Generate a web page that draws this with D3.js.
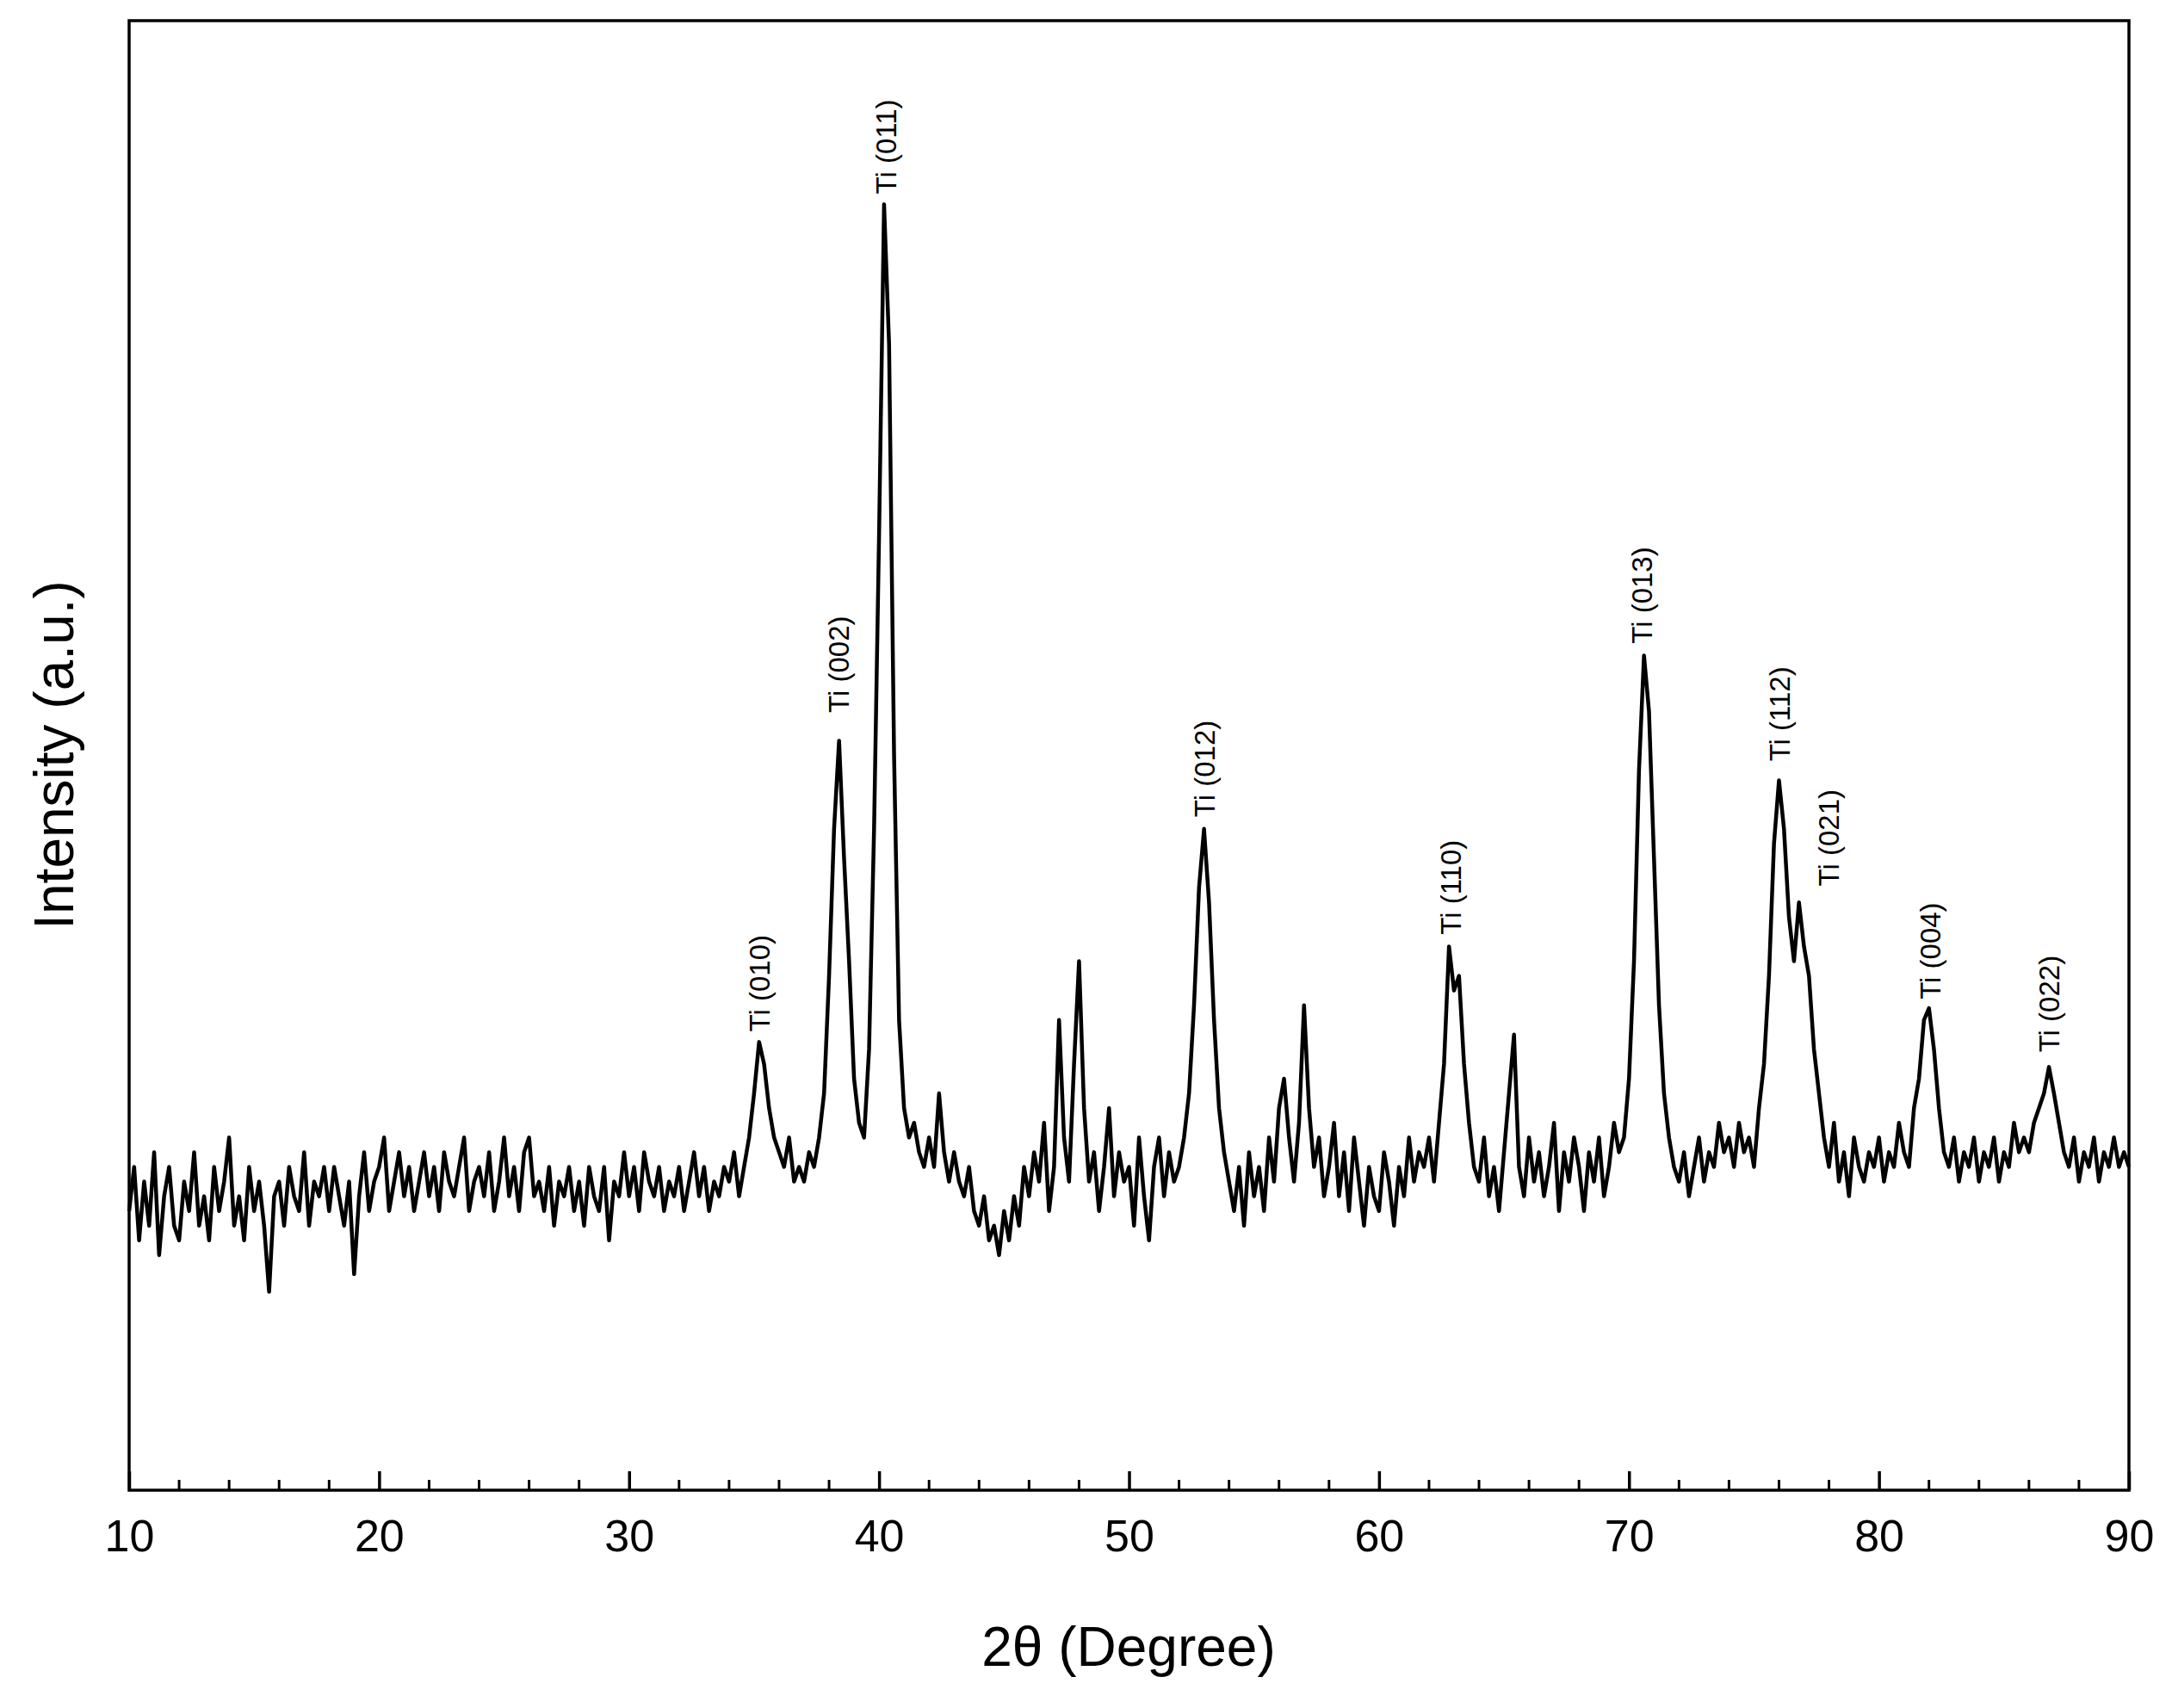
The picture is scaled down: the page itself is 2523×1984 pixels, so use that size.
<!DOCTYPE html>
<html><head><meta charset="utf-8">
<script src="https://cdn.jsdelivr.net/npm/d3@7"></script>
<style>body{margin:0;background:#fff}</style></head>
<body><svg id="c" width="2523" height="1984"></svg>
<script>
const angleStart = 10, angleStep = 0.2;
const intensity = [
19,22,17,21,18,23,16,20,22,18,
17,21,19,23,18,20,17,22,19,21,
24,18,20,17,22,19,21,18,13.5,20,
21,18,22,20,19,23,18,21,20,22,
19,22,20,18,21,14.7,20,23,19,21,
22,24,19,21,23,20,22,19,21,23,
20,22,19,23,21,20,22,24,19,21,
22,20,23,19,21,24,20,22,19,23,
24,20,21,19,22,18,21,20,22,19,
21,18,22,20,19,22,17,21,20,23,
20,22,19,23,21,20,22,19,21,20,
22,19,21,23,20,22,19,21,20,22,
21,23,20,22,24,27,30.5,29,26,24,
23,22,24,21,22,21,23,22,24,27,
35,45,51,43,36,28,25,24,30,45,
65,87.5,78,50,32,26,24,25,23,22,
24,22,27,23,21,23,21,20,22,19,
18,20,17,18,16,19,17,20,18,22,
20,23,21,25,19,22,32,24,21,29,
36,26,21,23,19,22,26,20,23,21,
22,18,24,20,17,22,24,20,23,21,
22,24,27,33,41,45,40,32,26,23,
21,19,22,18,23,20,22,19,24,21,
26,28,24,21,25,33,26,22,24,20,
22,25,20,23,19,24,21,18,22,20,
19,23,21,18,22,20,24,21,23,22,
24,21,25,29,37,34,35,29,25,22,
21,24,20,22,19,23,27,31,22,20,
24,21,23,20,22,25,19,23,21,24,
22,19,23,21,24,20,22,25,23,24,
28,36,49,56.8,53,43,33,27,24,22,
21,23,20,22,24,21,23,22,25,23,
24,22,25,23,24,22,26,29,35,44,
48.3,45,39,36,40,37,35,30,27,24,
22,25,21,23,20,24,22,21,23,22,
24,21,23,22,25,23,22,26,28,32,
32.8,30,26,23,22,24,21,23,22,24,
21,23,22,24,21,23,22,25,23,24,
23,25,26,27,28.8,27,25,23,22,24,
21,23,22,24,21,23,22,24,22,23,22];
const peakLabels = ["Ti (010)","Ti (002)","Ti (011)","Ti (012)","Ti (110)","Ti (013)","Ti (112)","Ti (021)","Ti (004)","Ti (022)"];
const peakX = [35.26,38.42,40.3,53.05,62.9,70.55,76.04,78.0,82.08,86.84];
const peakY = [31.2,52.9,88.2,45.8,37.8,57.6,49.6,41.1,33.4,29.8];
const xTicks = [10,20,30,40,50,60,70,80,90];

const L=150,R=2473,T=24,B=1731;
const svg=d3.select("#c");
const x=d3.scaleLinear().domain([10,90]).range([L,R]);
const y=d3.scaleLinear().domain([0,100]).range([B,T]);
const data=intensity.map((v,i)=>[angleStart+i*angleStep,v]);
svg.append("path").datum(data).attr("fill","none").attr("stroke","#000").attr("stroke-width",4.5)
  .attr("stroke-linejoin","round").attr("d",d3.line().x(d=>x(d[0])).y(d=>y(d[1])));
svg.append("rect").attr("x",L).attr("y",T).attr("width",R-L).attr("height",B-T).attr("fill","none").attr("stroke","#000").attr("stroke-width",3.5);
const ax=svg.append("g").attr("transform",`translate(0,${B})`)
  .call(d3.axisBottom(x).tickValues(xTicks).tickSize(-22).tickPadding(34).tickFormat(d3.format("d")));
ax.select(".domain").remove();
ax.selectAll("line").attr("stroke-width",3.5);
ax.selectAll("text").attr("font-family","Liberation Sans, Arial").attr("font-size",52).attr("fill","#000");
const minor=d3.range(12,90,2).filter(v=>v%10);
svg.append("g").selectAll("line").data(minor).join("line").attr("x1",d=>x(d)).attr("x2",d=>x(d))
  .attr("y1",B).attr("y2",B-12).attr("stroke","#000").attr("stroke-width",3);
svg.append("text").attr("x",1311).attr("y",1935).attr("text-anchor","middle")
  .attr("font-family","Liberation Sans, Arial").attr("font-size",64).text("2θ (Degree)");
svg.append("text").attr("transform","translate(85,877) rotate(-90)").attr("text-anchor","middle")
  .attr("font-family","Liberation Sans, Arial").attr("font-size",64).text("Intensity (a.u.)");
svg.append("g").selectAll("text").data(peakLabels).join("text")
  .attr("transform",(d,i)=>`translate(${x(peakX[i])+11},${y(peakY[i])}) rotate(-90)`)
  .attr("font-family","Liberation Sans, Arial").attr("font-size",33).text(d=>d);
</script></body></html>
